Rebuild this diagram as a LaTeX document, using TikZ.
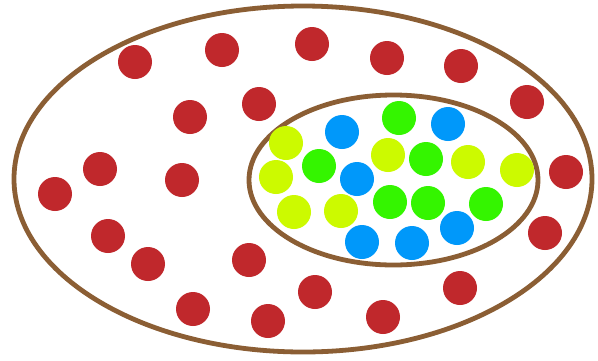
\documentclass[tikz,border=0pt]{standalone}
\begin{document}
\begin{tikzpicture}[x=1pt,y=-1pt,
  ring/.style={draw=ringbrown,line width=4.8pt},
  dot/.style={circle,inner sep=0pt,minimum size=34pt,draw=none},
  reddot/.style={dot,fill=dotred},
  ydot/.style={dot,fill=dotyellow},
  gdot/.style={dot,fill=dotgreen},
  bdot/.style={dot,fill=dotblue}]
\definecolor{ringbrown}{RGB}{139,94,52}
\definecolor{dotred}{RGB}{192,40,44}
\definecolor{dotyellow}{RGB}{204,250,0}
\definecolor{dotgreen}{RGB}{52,245,0}
\definecolor{dotblue}{RGB}{0,152,250}
\useasboundingbox (0,0) rectangle (598,360);
\fill[white] (0,0) rectangle (598,360);
\draw[ring] (303,179) ellipse [x radius=289,y radius=173];
\draw[ring] (393.5,180) ellipse [x radius=144.5,y radius=85];
% red
\node[reddot] (r1) at (135,62) {};
\node[reddot] (r2) at (222,50) {};
\node[reddot] (r3) at (312,44) {};
\node[reddot] (r4) at (387,58) {};
\node[reddot] (r5) at (461,66) {};
\node[reddot] (r6) at (527,102) {};
\node[reddot] (r7) at (190,117) {};
\node[reddot] (r8) at (259,104) {};
\node[reddot] (r9) at (566,172) {};
\node[reddot] (r10) at (100,169) {};
\node[reddot] (r11) at (182,180) {};
\node[reddot] (r12) at (55,194) {};
\node[reddot] (r13) at (108,236) {};
\node[reddot] (r14) at (148,264) {};
\node[reddot] (r15) at (249,260) {};
\node[reddot] (r16) at (545,233) {};
\node[reddot] (r17) at (193,309) {};
\node[reddot] (r18) at (268,321) {};
\node[reddot] (r19) at (315,292) {};
\node[reddot] (r20) at (383,317) {};
\node[reddot] (r21) at (460,288) {};
% yellow-green
\node[ydot] (y1) at (286,143) {};
\node[ydot] (y2) at (276,177) {};
\node[ydot] (y3) at (294,212) {};
\node[ydot] (y4) at (341,211) {};
\node[ydot] (y5) at (388,155) {};
\node[ydot] (y6) at (468,162) {};
\node[ydot] (y7) at (517,170) {};
% green
\node[gdot] (g1) at (319,166) {};
\node[gdot] (g2) at (399,118) {};
\node[gdot] (g3) at (426,159) {};
\node[gdot] (g4) at (390,202) {};
\node[gdot] (g5) at (428,203) {};
\node[gdot] (g6) at (486,204) {};
% blue
\node[bdot] (b1) at (342,132) {};
\node[bdot] (b2) at (448,124) {};
\node[bdot] (b3) at (357,179) {};
\node[bdot] (b4) at (362,242) {};
\node[bdot] (b5) at (412,243) {};
\node[bdot] (b6) at (457,228) {};
\end{tikzpicture}
\end{document}
